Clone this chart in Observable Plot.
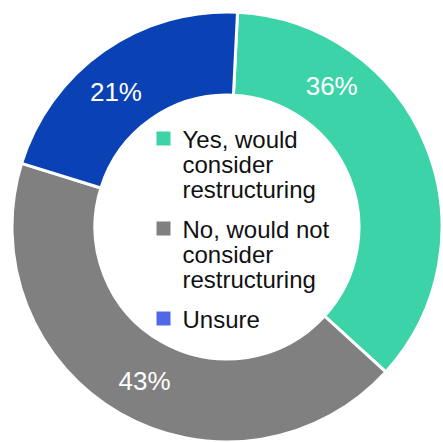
<!DOCTYPE html>
<html><head><meta charset="utf-8">
<script src="https://cdn.jsdelivr.net/npm/d3@7"></script>
<script src="https://cdn.jsdelivr.net/npm/@observablehq/plot@0.6"></script>
<style>body{margin:0;background:#fff}#chart svg{display:block}</style>
</head><body><div id="chart"></div>
<script>
// ---- data ----
const categories = ["Yes, would consider restructuring", "No, would not consider restructuring", "Unsure"];
const legendLines = ["Yes, would\nconsider\nrestructuring", "No, would not\nconsider\nrestructuring", "Unsure"];
const values = [36, 43, 21];
const valueLabels = ["36%", "43%", "21%"];
const sliceColors = ["#3dd3a9", "#808080", "#0a42b5"];
const swatchColors = ["#3dd3a9", "#808080", "#5068e8"];

// ---- layout ----
const W = 443, H = 442, CX = 227, CY = 227, RPX = 215;
const INNER = 132 / 215;
const START = 2.8 * Math.PI / 180;
const labelAt = [0.26, 0.49, 0.44];   // fraction along each arc for the label
const labelR = 0.815;
const font = "'Helvetica Neue', Helvetica, Arial, 'Liberation Sans', sans-serif";

const arcs = d3.pie().sort(null).startAngle(START).endAngle(START + 2 * Math.PI)(values);

const data = categories.map((c, i) => {
  const a = arcs[i].startAngle + labelAt[i] * (arcs[i].endAngle - arcs[i].startAngle);
  return {
    category: c, value: values[i], label: valueLabels[i], legend: legendLines[i],
    lx: labelR * Math.sin(a), ly: labelR * Math.cos(a),
    sx: (163 - CX) / RPX, sy: (CY - (138 + 90 * i)) / RPX,
    tx: (182 - CX) / RPX, ty: (CY - (130 + 90 * i)) / RPX
  };
});

function donut(index, scales) {
  const cx = scales.x(0), cy = scales.y(0);
  const R = scales.x(1) - cx;
  const g = d3.create("svg:g").attr("transform", `translate(${cx},${cy})`);
  g.append("circle").attr("r", R + 0.5).attr("fill", "none").attr("stroke", "#e4e4e4").attr("stroke-width", 1);
  const arc = d3.arc().innerRadius(R * INNER).outerRadius(R);
  g.selectAll("path").data(arcs).join("path")
    .attr("d", arc)
    .attr("fill", (d, i) => sliceColors[i])
    .attr("stroke", "white")
    .attr("stroke-width", 3)
    .attr("stroke-linejoin", "round");
  return g.node();
}

const chart = Plot.plot({
  width: W, height: H, margin: 0,
  x: {domain: [-CX / RPX, (W - CX) / RPX], range: [0, W], axis: null},
  y: {domain: [-(H - CY) / RPX, CY / RPX], range: [H, 0], axis: null},
  style: {background: "#fff", fontFamily: font},
  marks: [
    donut,
    Plot.text(data, {x: "lx", y: "ly", text: "label", fill: "white", fontSize: 26, textAnchor: "middle", lineAnchor: "middle"}),
    Plot.dot(data, {x: "sx", y: "sy", symbol: "square", r: 14 / Math.sqrt(Math.PI), fill: (d, i) => swatchColors[i], stroke: null}),
    Plot.text(data, {x: "tx", y: "ty", text: "legend", fill: "#111", fontSize: 24, lineHeight: 25 / 24, textAnchor: "start", lineAnchor: "top"})
  ]
});
document.getElementById("chart").append(chart);
</script>
</body></html>
